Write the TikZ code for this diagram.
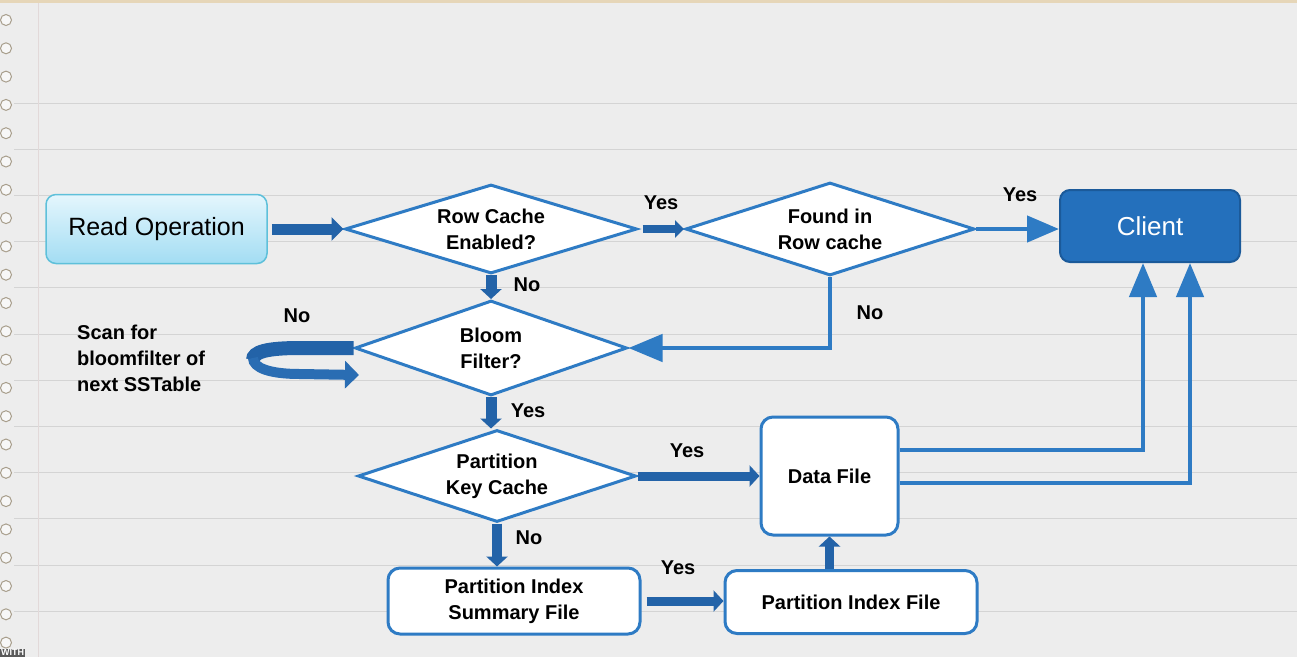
\documentclass[tikz,border=0pt]{standalone}
\usepackage{fontspec}
\setmainfont{Liberation Sans}
\usetikzlibrary{shapes.geometric,arrows.meta,calc}
\definecolor{bg}{HTML}{EDEDED}
\definecolor{ruleline}{HTML}{D4D4D4}
\definecolor{marginline}{HTML}{E2D9D9}
\definecolor{topband}{HTML}{E6D6B8}
\definecolor{holeedge}{HTML}{A89E8C}
\definecolor{lineblue}{HTML}{2E7BC4}
\definecolor{arrowblue}{HTML}{2363A8}
\definecolor{loopfront}{HTML}{2A6DB3}
\definecolor{clientblue}{HTML}{2470BC}
\definecolor{clientborder}{HTML}{1B5A9A}
\definecolor{readtop}{HTML}{E4F6FD}
\definecolor{readbot}{HTML}{A3DDF3}
\definecolor{readborder}{HTML}{5EC0DA}
\definecolor{wmark}{HTML}{5A5A5A}
\begin{document}
\begin{tikzpicture}[x=1pt,y=-1pt,
  lbl/.style={font=\fontsize{20}{26}\selectfont\bfseries, text=black, inner sep=0pt},
  decision/.style={diamond, draw=lineblue, line width=3pt, fill=white, aspect=3.1, inner sep=0pt, align=center, font=\fontsize{20}{26}\selectfont\bfseries},
  filebox/.style={rectangle, rounded corners=12pt, draw=lineblue, line width=3pt, fill=white, align=center, inner sep=0pt, font=\fontsize{20}{26}\selectfont\bfseries},
  readbox/.style={rectangle, rounded corners=10pt, draw=readborder, line width=1.5pt, top color=readtop, bottom color=readbot, inner sep=0pt, font=\fontsize{25}{30}\selectfont},
  clientbox/.style={rectangle, rounded corners=10pt, draw=clientborder, line width=2pt, fill=clientblue, text=white, inner sep=0pt, font=\fontsize{26}{30}\selectfont},
  blockarrow/.style={draw=arrowblue, line width=9pt, -{Triangle[length=10pt,width=21pt]}},
  thinarrow/.style={draw=lineblue, line width=4.5pt, -{Triangle[length=34pt,width=27pt]}},
]
% background
\fill[bg] (0,0) rectangle (1297,657);
\useasboundingbox (0,0) rectangle (1297,657);
\fill[topband] (0,0) rectangle (1297,3);
\foreach \i in {0,...,11}
  \draw[ruleline, line width=1pt] (14,{103+46.2*\i}) -- (1297,{103+46.2*\i});
\draw[marginline, line width=1pt] (38,3) -- (38,657);
\foreach \i in {0,...,22}
  \draw[holeedge, fill=white!97!black, line width=1pt] (6,{20+28.3*\i}) circle (5.5);
\node[fill=wmark, text=white, inner sep=1pt, font=\fontsize{9}{9}\selectfont\bfseries, anchor=south west] (wm) at (0,657) {WITH};

% nodes
\node[readbox, minimum width=221pt, minimum height=69pt] (read) at (156.5,229) {Read Operation};
\node[decision, minimum width=292pt, minimum height=89pt] (d1) at (491,229) {Row Cache\\Enabled?};
\node[decision, minimum width=289pt, minimum height=93pt] (d2) at (830,229) {Found in\\Row cache};
\node[clientbox, minimum width=180pt, minimum height=72pt] (client) at (1150,226) {Client};
\node[decision, minimum width=272pt, minimum height=95pt] (d3) at (491,348) {Bloom\\Filter?};
\node[decision, minimum width=278pt, minimum height=92pt] (d4) at (497,476) {Partition\\Key Cache};
\node[filebox, minimum width=137pt, minimum height=118pt] (data) at (829.5,476) {Data File};
\node[filebox, minimum width=252pt, minimum height=66pt] (pisf) at (514,601) {Partition Index\\Summary File};
\node[filebox, minimum width=252pt, minimum height=63pt] (pif) at (851,602) {Partition Index File};

% connectors
\draw[blockarrow, line width=11pt, -{Triangle[length=12pt,width=23pt]}] ([xshift=4pt]read.east) -- (d1.west);
\draw[blockarrow, line width=8pt, -{Triangle[length=9pt,width=17pt]}] ([xshift=4pt]d1.east) -- (d2.west);
\draw[thinarrow, -{Triangle[length=32pt,width=26pt]}] (d2.east) -- (d2.east -| client.west);
\draw[blockarrow, line width=11pt] (d1.south) -- (d3.north);
\draw[thinarrow] (d2.south) |- (d3.east);
% loop arrow (scan next SSTable)
\coordinate (loopleft) at (253,360);
\coordinate (loopend) at (359,375);
\draw[arrowblue, line width=14pt] (d3.west) -- (300,348) .. controls (266,348) and (253,352) .. (loopleft);
\draw[loopfront, line width=10pt, -{Triangle[length=14pt,width=27pt]}]
  (253,358) .. controls (253,368) and (270,374) .. (300,374) -- (loopend);
\draw[blockarrow, line width=11pt] (d3.south) -- (d3.south |- d4.north);
\draw[blockarrow] (d4.east) -- (data.west);
\draw[blockarrow, line width=10pt] (d4.south) -- (d4.south |- pisf.north);
\draw[blockarrow] ([xshift=5pt]pisf.east) -- (pisf.east -| pif.west);
\draw[blockarrow] (data.south |- pif.north) -- (data.south);
\draw[thinarrow] ($(data.east)+(0,-26)$) -| ($(client.south)+(-7,0)$);
\draw[thinarrow] ($(data.east)+(0,7)$) -| ($(client.south)+(40,0)$);

% labels
\node[lbl] (l1) at (661,203) {Yes};
\node[lbl] (l2) at (527,285) {No};
\node[lbl] (l3) at (1020,195) {Yes};
\node[lbl] (l4) at (297,316) {No};
\node[lbl] (l5) at (870,313) {No};
\node[lbl] (l6) at (528,411) {Yes};
\node[lbl] (l7) at (687,451) {Yes};
\node[lbl] (l8) at (529,538) {No};
\node[lbl] (l9) at (678,568) {Yes};
\node[lbl, anchor=west, align=left] (scan) at (77,358) {Scan for\\bloomfilter of\\next SSTable};
\end{tikzpicture}
\end{document}
